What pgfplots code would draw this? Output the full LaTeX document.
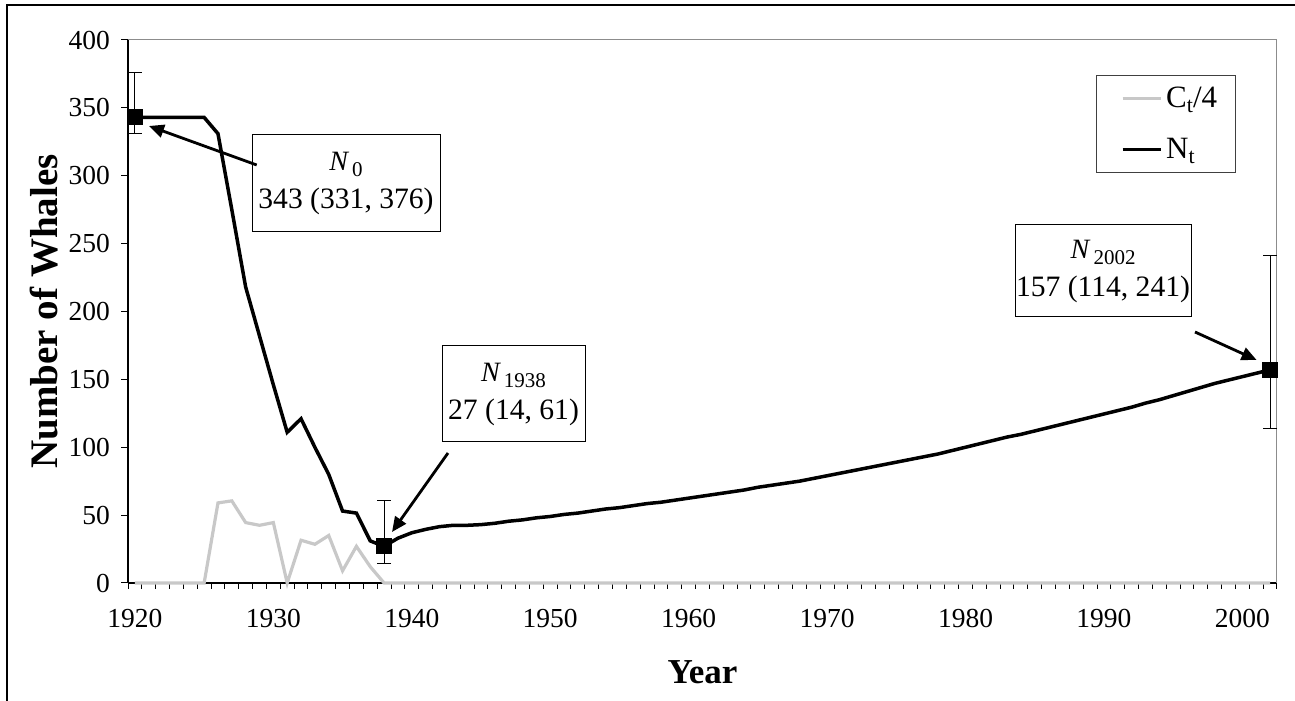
\documentclass[border=0pt]{standalone}
\usepackage{fontspec}
\setmainfont{Liberation Serif}
\usepackage{pgfplots}
\usepackage{pgfplotstable}
\pgfplotsset{compat=1.18}
\usetikzlibrary{arrows.meta}

\pgfplotstableread{
year N C
1920 343 0
1921 343 0
1922 343 0
1923 343 0
1924 343 0
1925 343 0
1926 331 59
1927 275 60.5
1928 218 44.5
1929 182 42.5
1930 146 44.5
1931 111 0
1932 121 31.5
1933 100 28.5
1934 80 35
1935 53 9
1936 51.5 27
1937 31 12
1938 27 0
1939 33 0
1940 37 0
1941 39.5 0
1942 41.5 0
1943 42.5 0
1944 42.5 0
1945 43 0
1946 44 0
1947 45.5 0
1948 46.5 0
1949 48 0
1950 49 0
1951 50.5 0
1952 51.5 0
1953 53 0
1954 54.5 0
1955 55.5 0
1956 57 0
1957 58.5 0
1958 59.5 0
1959 61 0
1960 62.5 0
1961 64 0
1962 65.5 0
1963 67 0
1964 68.5 0
1965 70.5 0
1966 72 0
1967 73.5 0
1968 75 0
1969 77 0
1970 79 0
1971 81 0
1972 83 0
1973 85 0
1974 87 0
1975 89 0
1976 91 0
1977 93 0
1978 95 0
1979 97.5 0
1980 100 0
1981 102.5 0
1982 105 0
1983 107.5 0
1984 109.5 0
1985 112 0
1986 114.5 0
1987 117 0
1988 119.5 0
1989 122 0
1990 124.5 0
1991 127 0
1992 129.5 0
1993 132.5 0
1994 135 0
1995 138 0
1996 141 0
1997 144 0
1998 147 0
1999 149.5 0
2000 152 0
2001 154.5 0
2002 157 0
}\whales

\definecolor{ctgray}{RGB}{200,200,200}

\begin{document}
\begin{tikzpicture}[x=1pt,y=1pt]
\begin{axis}[
  set layers=standard,
  at={(64pt,59pt)},
  scale only axis,
  width=574.5pt, height=271.5pt,
  xmin=1919.5, xmax=2002.5,
  ymin=0, ymax=400,
  axis x line*=bottom, axis y line*=left,
  axis line style={line width=0.75pt, black},
  tick align=outside,
  xtick={1920,1930,...,2000},
  minor xtick={1919.5,1920.5,...,2002.5},
  every major x tick/.append style={draw=none},
  every minor x tick/.append style={line width=0.5pt, black},
  minor tick length=3pt,
  ytick={0,50,...,400},
  every major y tick/.append style={line width=0.5pt, black},
  major tick length=3.5pt,
  /pgf/number format/assume math mode=true,
  /pgf/number format/1000 sep={},
  ticklabel style={font=\fontsize{13.75}{16}\selectfont},
  xticklabel style={yshift=-6pt},
  yticklabel style={xshift=-2pt},
  xlabel={\textbf{Year}},
  ylabel={\textbf{Number of Whales}},
  xlabel style={at={(axis description cs:0.5,-0.1639)}, anchor=center, font=\fontsize{17.5}{20}\selectfont},
  ylabel style={at={(axis description cs:-0.0731,0.5)}, anchor=center, font=\fontsize{19.5}{22}\selectfont},
  legend style={at={(rel axis cs:0.964,0.9355)}, anchor=north east, draw=black!75, line width=0.5pt,
    font=\fontsize{15.5}{18}\selectfont, inner xsep=7pt, inner ysep=3.5pt, row sep=10pt, cells={anchor=west}},
  legend image code/.code={\path (0pt,0pt); \draw[#1, line width=1.6pt] (5pt,0pt) -- (24pt,0pt);},
  clip=false,
]
\draw[black!45, line width=0.5pt] (rel axis cs:0,1) -- (rel axis cs:1,1) -- (rel axis cs:1,0);
\addplot[ctgray, line width=1.6pt, on layer=axis foreground] table[x=year, y=C] {\whales};
\addlegendentry{C\raisebox{-2.5pt}{\fontsize{11}{12}\selectfont t}/4}
\addplot[black, line width=1.75pt] table[x=year, y=N] {\whales};
\addlegendentry{N\raisebox{-2.5pt}{\fontsize{11}{12}\selectfont t}}
\addplot[forget plot, only marks, mark=square*, mark size=3.75pt, black, on layer=axis foreground,
  error bars/.cd, y dir=both, y explicit,
  error bar style={line width=0.5pt, black},
  error mark options={rotate=90, mark size=3.5pt, line width=0.5pt, black}]
  coordinates {
  (1920,343) += (0,33) -= (0,12)
  (1938,27) += (0,34) -= (0,13)
  (2002,157) += (0,84) -= (0,43)
  };
\end{axis}

% annotation boxes
\tikzset{ann/.style={draw=black, line width=0.5pt, fill=white, align=center, inner sep=0pt,
  font=\fontsize{14.8}{19}\selectfont}}
\newcommand{\Nsub}[1]{{\fontsize{14}{16}\selectfont\textit{N}}\hspace{1.5pt}\raisebox{-3pt}{\fontsize{10.5}{12}\selectfont #1}}
\node[ann, minimum width=94pt, minimum height=48.5pt] at (173,258.75) {\Nsub{0}\\343 (331, 376)};
\node[ann, minimum width=71.5pt, minimum height=48pt] at (256.75,153.5) {\Nsub{1938}\\27 (14, 61)};
\node[ann, minimum width=88pt, minimum height=46pt] at (551.5,215) {\Nsub{2002}\\157 (114, 241)};

\draw[line width=1.4pt, -{Triangle[length=7.5pt, width=6.5pt]}] (128.35,268) -- (74.5,287.5);
\draw[line width=1.4pt, -{Triangle[length=7.5pt, width=6.5pt]}] (224,124) -- (196,84.5);
\draw[line width=1.4pt, -{Triangle[length=7.5pt, width=6.5pt]}] (597.5,184.5) -- (628.3,170.5);

% outer frame
\draw[line width=0.75pt, black] (3.5,348) -- (652,348) -- (652,-5) -- (3.5,-5) -- cycle;

\pgfresetboundingbox
\path[use as bounding box] (0,0) rectangle (647.5,350.5);
\end{tikzpicture}
\end{document}
